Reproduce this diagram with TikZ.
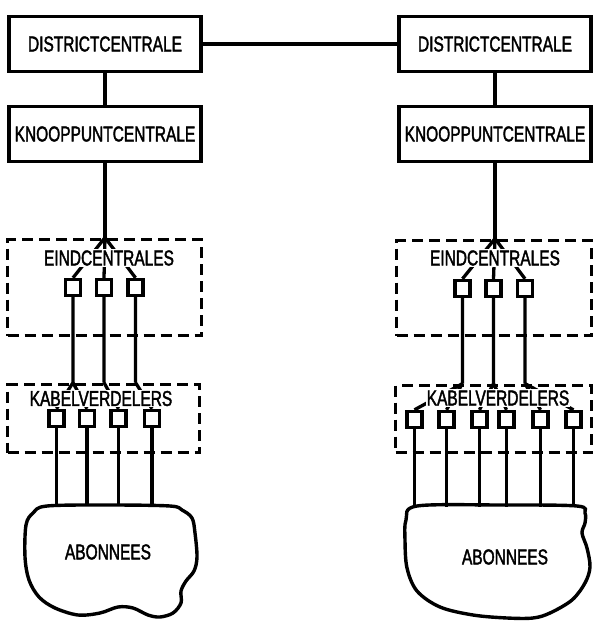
\documentclass[tikz,border=0pt]{standalone}
\usepackage{fontspec}
\setmainfont{Liberation Sans}[FakeStretch=0.72,FakeBold=1.8]
\begin{document}
\begin{tikzpicture}[x=1pt,y=-1pt,
  txt/.style={font=\fontsize{21.5}{24}\selectfont},
  solidbox/.style={draw, line width=3.6pt, minimum width=192pt, minimum height=55pt, inner sep=0pt, txt},
  dashbox/.style={draw, line width=3.8pt, dash pattern=on 11pt off 6pt, inner sep=0pt},
  sqbox/.style={draw, line width=3.4pt, minimum width=15pt, minimum height=16pt, inner sep=0pt},
  wire/.style={line width=3.3pt},
  lbl/.style={txt, fill=white, inner sep=1pt},
  cloud/.style={draw, line width=3.4pt}]
\useasboundingbox (0,0) rectangle (601,627);

% top boxes
\node[solidbox] (dc1) at (105,44) {DISTRICTCENTRALE};
\node[solidbox] (kc1) at (105,134) {KNOOPPUNTCENTRALE};
\node[solidbox] (dc2) at (495,44) {DISTRICTCENTRALE};
\node[solidbox] (kc2) at (495,134) {KNOOPPUNTCENTRALE};
\draw[wire] (dc1.east) -- (dc2.west);
\draw[wire] (dc1) -- (kc1);
\draw[wire] (dc2) -- (kc2);

% dashed boxes
\node[dashbox, minimum width=194pt, minimum height=96pt] (e1) at (104.5,287.5) {};
\node[dashbox, minimum width=195pt, minimum height=95pt] (e2) at (494,288) {};
\node[dashbox, minimum width=192pt, minimum height=68pt] (k1) at (103.5,418.5) {};
\node[dashbox, minimum width=196pt, minimum height=67pt] (k2) at (493.5,419) {};

% eind squares
\node[sqbox] (es11) at (73,287.5) {};
\node[sqbox] (es12) at (104,287.5) {};
\node[sqbox] (es13) at (135.5,287.5) {};
\node[sqbox] (es21) at (462.5,288.5) {};
\node[sqbox] (es22) at (493.5,288.5) {};
\node[sqbox] (es23) at (525,288.5) {};

% kabel squares
\node[sqbox] (ks11) at (56.5,418.5) {};
\node[sqbox] (ks12) at (87,418.5) {};
\node[sqbox] (ks13) at (118.5,418.5) {};
\node[sqbox] (ks14) at (152,418.5) {};
\node[sqbox] (ks21) at (414.5,419.5) {};
\node[sqbox] (ks22) at (446.5,419.5) {};
\node[sqbox] (ks23) at (479.5,419.5) {};
\node[sqbox] (ks24) at (506.5,419.5) {};
\node[sqbox] (ks25) at (540.5,419.5) {};
\node[sqbox] (ks26) at (573.5,419.5) {};

% feeders from knooppunt to eind
\coordinate (f1) at (kc1.south |- e1.north);
\coordinate (f2) at (kc2.south |- e2.north);
\draw[wire] (kc1.south) -- (f1);
\draw[wire] (kc2.south) -- (f2);
\foreach \s in {es11,es12,es13} \draw[wire] (f1) -- (\s.north);
\foreach \s in {es21,es22,es23} \draw[wire] (f2) -- (\s.north);

% eind to kabel
\coordinate (g11) at (es11.south |- k1.north);
\coordinate (g12) at (es12.south |- k1.north);
\coordinate (g13) at (es13.south |- k1.north);
\coordinate (g21) at (es21.south |- k2.north);
\coordinate (g22) at (es22.south |- k2.north);
\coordinate (g23) at (es23.south |- k2.north);
\draw[wire] (es11.south) -- (g11) (g11) -- (ks11.north) (g11) -- (ks12.north);
\draw[wire] (es12.south) -- (g12) (g12) -- (ks13.north);
\draw[wire] (es13.south) -- (g13) (g13) -- (ks14.north);
\draw[wire] (es21.south) -- (g21) (g21) -- (ks21.north) (g21) -- (ks22.north);
\draw[wire] (es22.south) -- (g22) (g22) -- (ks23.north) (g22) -- (ks24.north);
\draw[wire] (es23.south) -- (g23) (g23) -- (ks25.north) (g23) -- (ks26.north);

% labels in dashed boxes
\node[lbl] (e1l) at (109,258) {EINDCENTRALES};
\node[lbl] (e2l) at (495,258) {EINDCENTRALES};
\node[lbl] (k1l) at (101,398.5) {KABELVERDELERS};
\node[lbl] (k2l) at (498,398) {KABELVERDELERS};

% clouds
\draw[cloud] plot[smooth cycle, tension=0.55] coordinates {
  (47,506) (110,505) (170,506) (182,510) (192,518) (195,533) (197,557) (194,571)
  (186,581) (181,591) (181,603) (173,613) (160,617) (148,615) (133,608)
  (118,607) (100,613) (78,615) (55,608) (39,597) (29,580) (25,557) (26,525) (33,513)};
\draw[cloud] plot[smooth cycle, tension=0.55] coordinates {
  (417,506) (500,505) (577,506) (585,513) (585,523) (582,533) (587,548) (590,567)
  (585,583) (572,600) (550,613) (533,618) (507,618) (473,615) (440,607)
  (417,591) (407,568) (405,540) (406,520)};
\node[txt] (ab1) at (108,552) {ABONNEES};
\node[txt] (ab2) at (505,557) {ABONNEES};
\coordinate (ct1) at (0,506);
\coordinate (ct2) at (0,506.5);
\foreach \s in {ks11,ks12,ks13,ks14} \draw[wire] (\s.south) -- (\s.south |- ct1);
\foreach \s in {ks21,ks22,ks23,ks24,ks25,ks26} \draw[wire] (\s.south) -- (\s.south |- ct2);
\end{tikzpicture}
\end{document}
